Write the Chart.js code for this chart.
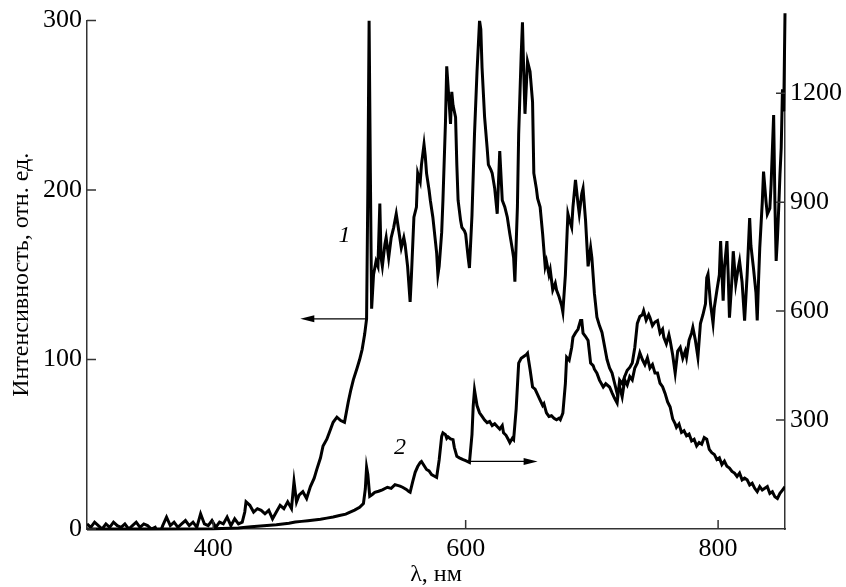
<!DOCTYPE html>
<html>
<head>
<meta charset="utf-8">
<script src="https://cdn.jsdelivr.net/npm/chart.js@4"></script>
<style>
  html, body { margin: 0; padding: 0; background: #fff; }
  #wrap { width: 846px; height: 587px; }
</style>
</head>
<body>
<div id="wrap"><canvas id="chart" width="846" height="587"></canvas></div>
<script>
"use strict";

// Curve 1 (left axis, rel. units) and curve 2 (right axis).
const wl1 = [
  300,303,306,309,312,315,318,321,324,327,
  330,333,336,339,342,345,348,351,354,357,
  360,363,366,369,372,375,378,381,384,387,
  390,393,396,399,402,405,408,411,414,417,
  420,423,425,426,429,432,435,438,441,444,
  447,450,453,456,459,462,464,466,468,471,
  474,477,480,482,485,487,490,492,495,498,
  501,504,507,509,511,514,516,518,520,521.5,
  522.5,523.5,524.5,525.5,527,529,530.5,532,533,534,
  536,537,539,541,543,545,547,549,551,552,
  554,556,557,559,561,562,564,565,567,568,
  569,571,572,574,576,577,578,579,581,582,
  584,585,586,588,589,590,592,593,594,596,
  597,599,600,602,603,605,607,609,611,612,
  613,615,617,618,620,621,623,625,627,629,
  631,633,635,637,638,639,641,642,644,645,
  646,647,649,651,653,654,656,657,659,661,
  663,664,666,667,669,671,672,674,676,677,
  679,681,682,684,685,687,689,690,692,693,
  695,697,699,700,702,704,706,708,710,712,
  714,716,718,720,722,724,726,728,730,732,
  734,736,738,740,742,744,746,748,750,752,
  754,756,758,760,762,764,766,767,769,771,
  773,775,777,779,781,783,785,787,789,791,
  793,795,797,799,801,803,805,807,809,811,
  813,815,817,819,821,823,825,827,829,831,
  833,835,837,839,841,843,845,847,849,851,
  853
];
const int1 = [
  3,1,4,2,0,3,1,4,2,1,
  3,0,2,4,1,3,2,0,1,-4,
  2,7,2,4,1,3,5,2,4,1,
  9,3,2,5,1,4,3,7,2,6,
  3,4,10,16,14,10,12,11,9,11,
  6,10,14,12,16,12,28,16,20,22,
  18,25,30,35,42,49,53,57,63,66,
  64,63,75,82,88,95,100,106,115,124,
  200,300,210,130,150,158,155,192,160,155,
  168,172,160,172,178,186,176,166,172,168,
  155,134,149,184,190,210,205,215,227,220,
  210,200,194,184,170,163,150,155,175,194,
  240,273,262,239,258,250,243,215,194,182,
  178,176,174,160,154,185,233,270,300,295,
  272,243,225,215,212,210,201,186,223,194,
  190,184,174,165,160,146,190,233,280,299,
  270,245,276,270,252,210,201,195,190,174,
  155,158,150,153,141,145,141,137,132,128,
  150,186,183,178,190,206,192,186,198,201,
  182,155,166,160,139,125,120,116,108,100,
  95,92,86,80,84,78,88,85,90,88,
  95,98,104,100,97,101,95,97,92,92,
  86,84,80,75,72,65,62,60,62,57,
  58,55,56,52,53,49,51,50,54,53,
  47,45,44,41,42,38,40,37,36,34,
  33,31,33,29,30,29,26,27,24,22,
  25,23,24,25,21,22,19,18,21,23,
  25
];

const wl2 = [
  300,350,400,420,430,440,450,460,465,470,
  475,480,485,490,495,500,505,508,512,516,
  519,520.5,521.5,522.5,524,526,528,531,534,538,
  541,544,546,548,550,553,555,556,558,560,
  562,564,565,567,569,571,573,575,577,579,
  581,582,584,585,586,588,590,591,593,595,
  598,600,603,605,606,607,609,611,613,615,
  617,619,621,623,625,627,629,630,632,634,
  635,637,638,640,642,644,646,648,649,651,
  653,655,657,659,661,662,664,666,668,670,
  672,674,675,677,679,680,682,684,685,687,
  689,691,692,693,695,697,699,701,702,704,
  706,709,711,714,716,718,720,722,724,726,
  728,730,732,734,736,738,740,741,743,745,
  746,748,750,752,754,756,757,759,761,762,
  764,766,768,770,772,774,775,777,779,780,
  782,784,786,788,790,791,792,794,796,797,
  799,801,802,804,805,807,808,809,811,812,
  814,816,817,819,821,823,825,826,828,830,
  831,832,833,835,836,838,839,841,842,844,
  845,846,847,848,849,850,851,852,853
];
const int2 = [
  0,0,1,3,6,9,12,16,19,21,
  23,25,27,30,33,37,41,46,52,60,
  70,110,170,150,90,95,101,104,108,115,
  112,122,120,118,115,109,103,101,130,156,
  172,183,186,175,164,160,150,146,142,190,
  255,265,260,250,254,248,246,225,200,196,
  191,188,183,260,340,383,340,320,310,300,
  293,296,285,290,282,275,285,265,258,245,
  238,250,246,330,457,470,475,480,484,440,
  391,385,370,355,340,345,320,310,312,305,
  301,305,301,319,400,473,465,500,528,540,
  550,574,574,539,530,519,457,450,440,429,
  410,391,400,391,375,360,347,410,400,420,
  437,445,457,500,566,585,590,601,575,590,
  582,560,570,574,540,550,528,510,535,519,
  480,429,490,500,470,490,473,520,540,555,
  520,473,566,590,620,692,702,620,566,610,
  656,700,793,629,720,793,700,582,690,765,
  675,720,738,680,574,700,856,780,719,650,
  574,680,774,900,984,900,867,883,950,1140,
  900,738,800,883,976,1050,1211,1150,1420
];

const xTicks = [400, 600, 800];
const yLeftTicks = [0, 100, 200, 300];
const yRightTicks = [300, 600, 900, 1200];

const SERIF = "'Liberation Serif', 'Times New Roman', serif";
const INK = "#000";
const AXIS = "#333";

// arrows and curve numbers, in data units of the axis each one belongs to
const marks = [
  { text: "1", axis: "y", x: 504, y: 173, arrowFrom: 521.5, arrowTo: 469, arrowY: 124 },
  { text: "2", axis: "y2", x: 548, y: 224, arrowFrom: 603, arrowTo: 657, arrowY: 186 },
];

const zip = (xs, ys) => xs.map((x, i) => ({ x, y: ys[i] }));
const setTicks = (list) => (scale) => { scale.ticks = list.map((v) => ({ value: v })); };
const plain = (v) => String(v);

// ticks in this figure point into the plot, so they are drawn here
const innerTicks = {
  id: "innerTicks",
  afterDatasetsDraw(chart) {
    const { ctx, chartArea: a, scales } = chart;
    const len = 9;
    ctx.save();
    ctx.strokeStyle = AXIS;
    ctx.lineWidth = 1.5;
    ctx.beginPath();
    for (const v of xTicks) {
      const px = scales.x.getPixelForValue(v);
      ctx.moveTo(px, a.bottom);
      ctx.lineTo(px, a.bottom - len);
    }
    for (const v of yLeftTicks) {
      const py = scales.y.getPixelForValue(v);
      ctx.moveTo(a.left, py);
      ctx.lineTo(a.left + len, py);
    }
    for (const v of yRightTicks) {
      const py = scales.y2.getPixelForValue(v);
      ctx.moveTo(a.right, py);
      ctx.lineTo(a.right - len, py);
    }
    ctx.stroke();

    ctx.fillStyle = INK;
    ctx.strokeStyle = INK;
    ctx.lineWidth = 1.3;
    for (const m of marks) {
      const ys = scales[m.axis];
      const py = ys.getPixelForValue(m.arrowY);
      const x0 = scales.x.getPixelForValue(m.arrowFrom);
      const x1 = scales.x.getPixelForValue(m.arrowTo);
      const dir = Math.sign(x1 - x0);
      ctx.beginPath();
      ctx.moveTo(x0, py);
      ctx.lineTo(x1 - dir * 10, py);
      ctx.stroke();
      ctx.beginPath();
      ctx.moveTo(x1, py);
      ctx.lineTo(x1 - dir * 14, py - 3.5);
      ctx.lineTo(x1 - dir * 14, py + 3.5);
      ctx.closePath();
      ctx.fill();

      ctx.font = "italic 24px " + SERIF;
      ctx.textAlign = "center";
      ctx.textBaseline = "middle";
      ctx.fillText(m.text, scales.x.getPixelForValue(m.x), ys.getPixelForValue(m.y));
    }
    ctx.restore();
  },
};

const tickFont = { family: SERIF, size: 26 };

new Chart(document.getElementById("chart"), {
  type: "line",
  data: {
    datasets: [
      { label: "1", data: zip(wl1, int1), yAxisID: "y", borderColor: INK, borderWidth: 3, pointRadius: 0, tension: 0 },
      { label: "2", data: zip(wl2, int2), yAxisID: "y2", borderColor: INK, borderWidth: 3, pointRadius: 0, tension: 0, clip: false },
    ],
  },
  options: {
    responsive: false,
    animation: false,
    devicePixelRatio: 1,
    layout: { padding: { top: 19, left: 0, right: 0, bottom: 0 } },
    plugins: { legend: { display: false }, tooltip: { enabled: false } },
    scales: {
      x: {
        type: "linear",
        min: 300,
        max: 853,
        afterBuildTicks: setTicks(xTicks),
        afterFit: (s) => { s.height = 58; },
        grid: { display: true, drawOnChartArea: false, drawTicks: false },
        border: { display: true, color: AXIS, width: 1.5 },
        ticks: { font: tickFont, color: INK, padding: 5, maxRotation: 0, callback: plain },
        title: { display: true, text: "λ, нм", font: { family: SERIF, size: 24, lineHeight: 1 }, color: INK, padding: { top: 0, bottom: 0 } },
      },
      y: {
        position: "left",
        min: 0,
        max: 300,
        afterBuildTicks: setTicks(yLeftTicks),
        afterFit: (s) => { s.width = 87; },
        grid: { display: true, drawOnChartArea: false, drawTicks: false },
        border: { display: true, color: AXIS, width: 1.5 },
        ticks: { font: tickFont, color: INK, padding: 5, callback: plain },
        title: { display: true, text: "Интенсивность, отн. ед.", font: { family: SERIF, size: 24, lineHeight: 1 }, color: INK, padding: { top: 10, bottom: 0 } },
      },
      y2: {
        position: "right",
        min: 0,
        max: 1400,
        afterBuildTicks: setTicks(yRightTicks),
        afterFit: (s) => { s.width = 61; },
        grid: { display: true, drawOnChartArea: false, drawTicks: false },
        border: { display: true, color: AXIS, width: 1.5 },
        ticks: { font: tickFont, color: INK, padding: 5, callback: plain },
      },
    },
  },
  plugins: [innerTicks],
});
</script>
</body>
</html>
